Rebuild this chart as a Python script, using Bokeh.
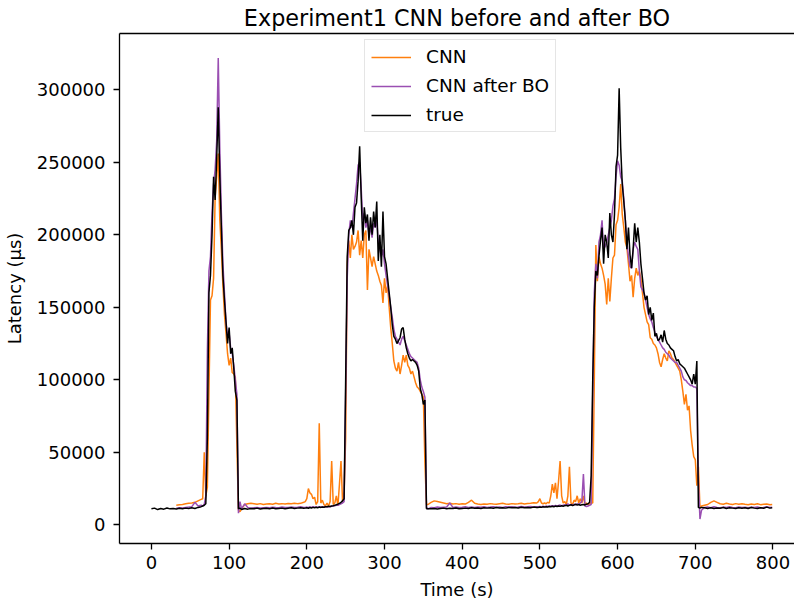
import numpy as np
from bokeh.plotting import figure
from bokeh.models import ColumnDataSource, Range1d, FixedTicker, LinearAxis, BasicTickFormatter
from bokeh.embed import file_html
from bokeh.resources import INLINE

NaN = float("nan")

chart_title = "Experiment1 CNN before and after BO"
x_label = "Time (s)"
y_label = "Latency (µs)"
series_names = ["CNN", "CNN after BO", "true"]
x_ticks = [0, 100, 200, 300, 400, 500, 600, 700, 800]
y_ticks = [0, 50000, 100000, 150000, 200000, 250000, 300000]

time_s = [
    0, 4, 8, 12, 16, 20, 24, 28, 32, 36, 40, 44, 48, 52, 56, 60, 64,
    66, 68, 70, 72, 74, 76, 78, 80, 82, 84, 86, 88, 90, 92, 94, 96, 98, 100, 102, 104, 106, 108, 110, 112, 114, 116,
    120, 124, 128, 132, 136, 140, 144, 148, 152, 156, 160, 164, 168, 172, 176, 180, 184, 188, 192, 196,
    198, 200, 202, 204, 206, 208, 210, 212, 214, 216, 218, 220, 222, 224, 226, 228, 230, 232, 234, 236, 238, 240, 242, 244, 246, 248, 250,
    252, 254, 256, 258, 260, 262, 264, 266, 268, 270, 272, 274, 276, 278, 280, 282, 284, 286, 288, 290, 292, 294, 296, 298, 300,
    302, 304, 306, 308, 310, 312, 314, 316, 318, 320, 322, 324, 326, 328, 330, 332, 334, 336, 338, 340, 342, 344, 346, 348, 350, 352, 354, 356,
    360, 364, 368, 372, 376, 380, 384, 388, 392, 396, 400, 404, 408, 412, 416, 420, 424, 428, 432, 436, 440, 444, 448, 452, 456, 460, 464, 468, 472, 476, 480, 484, 488, 492, 496,
    498, 500, 502, 504, 506, 508, 510, 512, 514, 516, 518, 520, 522, 524, 526, 528, 530, 532, 534, 536, 538, 540, 542, 544, 546, 548, 550, 552, 554, 556, 558, 560, 562, 564, 566,
    568, 570, 572, 574, 576, 578, 580, 582, 584, 586, 588, 590, 592, 594, 596, 598, 600, 602, 604, 606,
    608, 610, 612, 614, 616, 618, 620, 622, 624, 626, 628, 630, 632, 634, 636, 638, 640, 642, 644, 646,
    648, 650, 652, 654, 656, 658, 660, 662, 664, 666, 668, 670, 672, 674, 676, 678, 680, 682, 684, 686,
    688, 690, 692, 694, 696, 698, 700, 702, 704, 706, 708,
    712, 716, 720, 724, 728, 732, 736, 740, 744, 748, 752, 756, 760, 764, 768, 772, 776, 780, 784, 788, 792, 796, 799,
]

latency_true = [
    11000, 11500, 10500, 11200, 10800, 11600, 11000, 11300, 10900, 11400, 11100, 11500, 11200, 11700, 11300, 12000, 12500,
    13000, 13500, 14500, 60000, 160000, 172000, 200000, 240000, 224000, 253000,
    288000, 240000, 205000, 172000, 155000, 140000, 125000, 136000, 118000, 122000,
    108000, 92000, 86000, 11000, 11500, 10500,
    11200, 10800, 11300, 11000, 11500, 10900, 11200, 11400, 11000, 11600, 11100, 11300, 11500, 11000, 11400, 11700, 11200, 11500, 11800, 11400,
    11500, 11800, 11400, 11900, 11600, 12000, 11700, 12100, 11800, 12200, 12000, 12300, 12100, 12500, 12400, 12800, 12600, 13000, 13200, 13500,
    13800, 14200, 14800, 15500, 16500, 18000, 100000,
    185000, 203000, 205000, 210000, 200000, 219000, 222000, 237000, 261000, 226000, 196000, 219000, 208000, 214000, 196000,
    212000, 200000, 216000, 205000, 223000, 182000, 200000, 178000, 216000, 185000,
    180000, 170000, 160000, 150000, 138000, 130000, 128000, 125000, 127000, 129000, 135000, 136000, 128000, 122000,
    118000, 115000, 113000, 114000, 113000, 112000, 110000, 106000, 94000, 90000, 83000, 86000, 11000, 11000,
    11000, 11300, 10900, 11200, 11500, 11000, 11400, 11200, 11600, 11100, 11300, 11500, 11200, 11700, 11400, 11600, 11300, 11800,
    11500, 11700, 11400, 11900, 11600, 11800, 11500, 12000, 11700, 11900, 11600, 12100, 11800, 12000, 11700, 12200, 11900,
    12000, 12300, 12000, 12400, 12200, 12500, 12300, 12600, 12400, 12800, 12500, 12900, 12600, 13000, 12700, 13100, 12800, 13200,
    13500, 13000, 13400, 13800, 13300, 13700, 14200, 13600, 14000, 13500, 13800, 14000, 13700, 14200, 14500, 15500, 34000,
    100000, 150000, 175000, 172000, 185000, 196000, 205000, 180000, 200000, 195000,
    184000, 215000, 200000, 195000, 214000, 247000, 255000, 301000, 260000, 235000,
    223000, 210000, 190000, 205000, 186000, 177000, 190000, 208000, 195000, 205000,
    195000, 180000, 170000, 160000, 155000, 158000, 145000, 150000, 141000, 146000,
    130000, 132000, 127000, 128000, 131000, 126000, 134000, 128000, 125000, 124000,
    122000, 121000, 120000, 116000, 113000, 114000, 111000, 110000, 109000, 108000,
    106000, 104000, 102000, 100000, 97000, 104000, 97000, 113000, 12000, 11500, 12000,
    11800, 11300, 11700, 11200, 11600, 11400, 11900, 11300, 11700, 11500, 11200, 11800, 11400, 11700, 11300, 11900, 11500, 11200,
    11800, 11400, 12200, 11500, 11800,
]

latency_cnn = [
    NaN, NaN, NaN, NaN, NaN, NaN, NaN, NaN, 13500, 13800, 14000, 14500, 14800, 15000, 15500, 16500, 17500,
    18000, 50000, 20000, 26000, 90000, 155000, 158000, 170000, 226000, 240000,
    256000, 210000, 190000, 165000, 145000, 132000, 118000, 110000, 115000, 105000,
    104000, 102000, 54000, 10000, 9000, 11000,
    14000, 14500, 14800, 14500, 14200, 14600, 14000, 14300, 14500, 14200, 14800, 14400, 14600, 14300, 14700, 14500, 14900, 14600, 14800, 15500,
    16000, 18000, 25000, 22000, 21000, 18000, 19000, 14000, 16000, 70000,
    15000, 17000, 14000, 13000, 15000, 13000, 16000, 44000, 14000, 15000,
    20000, 13000, 28000, 44000, 16000, 23000, 60000,
    180000, 196000, 184000, 200000, 190000, 192000, 195000, 203000, 186000, 196000, 184000, 200000, 203000, 162000, 190000,
    184000, 178000, 185000, 180000, 175000, 172000, 168000, 165000, 153000, 170000,
    160000, 165000, 150000, 136000, 125000, 113000, 108000, 106000, 112000, 104000, 110000, 117000, 112000, 117000,
    110000, 108000, 104000, 106000, 102000, 98000, 95000, 94000, 92000, 90000, 88000, 43000, 14000, 14000,
    15500, 16500, 16000, 15500, 15000, 14500, 14800, 14300, 14600, 14200, 14500, 14300, 15500, 17000, 14800, 14300, 14000, 14400,
    14200, 14600, 14300, 14100, 14500, 14800, 14400, 14200, 14600, 14300, 14500, 14800, 14400, 14700, 14900, 15200, 15000,
    16000, 18000, 15000, 14500, 15000, 14500, 15500, 15000, 20000, 28000, 22000, 29000, 18000, 30000, 44000, 20000, 15000, 16000,
    14000, 20000, 40000, 15000, 14000, 17000, 16000, 20000, 15000, 18000, 15000, 20000, 14000, 15000, 14000, 14500, 15000,
    15000, 99000, 193000, 168000, 185000, 180000, 177000, 172000, 166000, 152000,
    170000, 154000, 170000, 184000, 186000, 207000, 210000, 219000, 235000, 214000,
    205000, 195000, 191000, 180000, 168000, 172000, 157000, 170000, 177000, 172000,
    175000, 170000, 160000, 150000, 145000, 140000, 138000, 129000, 128000, 125000,
    124000, 122000, 118000, 112000, 109000, 114000, 118000, 115000, 113000, 120000,
    118000, 115000, 114000, 112000, 110000, 108000, 106000, 100000, 92000, 83000,
    90000, 79000, 82000, 65000, 55000, 47000, 45000, 27000, 40000, 12000, 13000,
    13500, 14000, 15500, 16500, 15500, 14500, 14200, 14800, 14300, 14000, 14600, 14200, 14500, 14100, 13800, 14300, 14000, 14500,
    13900, 14200, 14400, 13800, 14000,
]

latency_cnn_bo = [
    NaN, NaN, NaN, NaN, NaN, NaN, NaN, NaN, 11500, 11800, 11600, 12000, 12200, 12500, 15500, 13000, 13500,
    13000, 14000, 20000, 120000, 175000, 185000, 215000, 235000, 245000, 265000,
    322000, 260000, 215000, 180000, 160000, 140000, 130000, 132000, 122000, 118000,
    110000, 100000, 90000, 8000, 16000, 11000,
    14500, 12000, 11500, 11800, 12000, 11600, 11800, 12000, 11700, 12100, 11900, 11800, 12200, 11900, 12000, 12300, 11900, 12100, 12400, 12000,
    12000, 12200, 11900, 12300, 12000, 12400, 12100, 12300, 12000, 12500,
    12200, 12400, 12100, 12600, 12300, 12500, 12500, 12800, 13000, 13200,
    13400, 13500, 14000, 14500, 15000, 16000, 90000,
    170000, 200000, 210000, 205000, 215000, 225000, 235000, 248000, 250000, 232000, 210000, 215000, 205000, 210000, 200000,
    205000, 198000, 208000, 205000, 210000, 195000, 190000, 185000, 190000, 180000,
    172000, 165000, 158000, 150000, 143000, 135000, 130000, 128000, 126000, 124000, 128000, 130000, 127000, 124000,
    121000, 118000, 116000, 115000, 114000, 113000, 112000, 108000, 100000, 95000, 92000, 88000, 12000, 11000,
    12000, 11800, 12200, 11900, 12100, 12300, 15000, 12000, 12200, 11900, 12100, 12400, 12000, 12200, 11900, 12300, 12100, 12400,
    12000, 12200, 12500, 12100, 12300, 12000, 12400, 12200, 12500, 12100, 12300, 12600, 12200, 12400, 12700, 12300, 12500,
    12500, 12600, 12300, 12800, 12500, 12900, 12600, 13000, 12800, 13200, 12900, 13400, 13000, 13300, 13600, 13200, 13500, 13800,
    13400, 14500, 13600, 14000, 13500, 14200, 13800, 14500, 14000, 15000, 16000, 35000, 13000, 12500, 13000, 13500, 14000,
    90000, 160000, 180000, 170000, 195000, 200000, 210000, 190000, 192000, 195000,
    200000, 205000, 210000, 220000, 225000, 240000, 251000, 248000, 240000, 237000,
    225000, 210000, 195000, 185000, 178000, 177000, 190000, 195000, 192000, 190000,
    175000, 164000, 162000, 160000, 155000, 150000, 145000, 142000, 140000, 136000,
    133000, 130000, 128000, 126000, 124000, 122000, 121000, 119000, 118000, 117000,
    115000, 114000, 113000, 112000, 112000, 110000, 108000, 106000, 102000, 100000,
    99500, 98000, 97000, 96000, 96000, 95000, 95000, 94000, 30000, 4000, 10000,
    12000, 12300, 11800, 12500, 12000, 11700, 12200, 11900, 12400, 12000, 11800, 12300, 11900, 12100, 11700, 12200, 11900, 12300,
    11800, 12000, 12400, 11900, 12100,
]

assert len(time_s) == len(latency_true) == len(latency_cnn) == len(latency_cnn_bo), (
    len(time_s), len(latency_true), len(latency_cnn), len(latency_cnn_bo))

source = ColumnDataSource(data=dict(
    t=np.array(time_s, dtype=float),
    true=np.array(latency_true, dtype=float),
    cnn=np.array(latency_cnn, dtype=float),
    bo=np.array(latency_cnn_bo, dtype=float),
))

FONT = "DejaVu Sans"
TICK_PX = "18px"

p = figure(
    width=794, height=603,
    x_range=Range1d(-41.1, 827.7),
    y_range=Range1d(-12897, 338827),
    output_backend="svg", toolbar_location=None,
    min_border_left=118, min_border_right=0, min_border_top=33, min_border_bottom=60,
    title=chart_title,
)
p.background_fill_color = "white"
p.border_fill_color = "white"
p.outline_line_color = None
p.xgrid.visible = False
p.ygrid.visible = False

p.title.text_font = FONT
p.title.text_font_size = "22.3px"
p.title.text_font_style = "normal"
p.title.text_color = "black"
p.title.align = "center"
p.title.offset = 5
p.title.standoff = 5

for ax in (p.xaxis[0], p.yaxis[0]):
    ax.axis_line_color = "black"
    ax.axis_line_width = 1.3
    ax.major_tick_line_color = "black"
    ax.major_tick_line_width = 1.3
    ax.major_tick_out = 6
    ax.major_tick_in = 0
    ax.minor_tick_out = 0
    ax.minor_tick_in = 0
    ax.major_label_text_font = FONT
    ax.major_label_text_font_size = TICK_PX
    ax.major_label_text_color = "black"
    ax.axis_label_text_font = FONT
    ax.axis_label_text_font_size = TICK_PX
    ax.axis_label_text_font_style = "normal"
    ax.axis_label_text_color = "black"

p.xaxis.ticker = FixedTicker(ticks=x_ticks)
p.yaxis.ticker = FixedTicker(ticks=y_ticks)
p.yaxis.formatter = BasicTickFormatter(use_scientific=False)
p.xaxis.axis_label = x_label
p.yaxis.axis_label = y_label
p.xaxis.major_label_standoff = 6
p.yaxis.major_label_standoff = 8
p.xaxis.axis_label_standoff = 7
p.yaxis.axis_label_standoff = 9

top_axis = LinearAxis(
    ticker=FixedTicker(ticks=[]),
    major_label_text_font_size="0px",
    major_tick_out=0, major_tick_in=0, minor_tick_out=0, minor_tick_in=0,
    major_label_standoff=0,
    axis_line_color="black", axis_line_width=1.3,
)
p.add_layout(top_axis, "above")

p.line("t", "cnn", source=source, color="#ff7f0e", line_width=1.5, legend_label=series_names[0])
p.line("t", "bo", source=source, color="#9a4fb2", line_width=1.5, legend_label=series_names[1])
p.line("t", "true", source=source, color="black", line_width=1.5, legend_label=series_names[2])

lg = p.legend[0]
lg.location = (245, 411)
lg.label_text_font = FONT
lg.label_text_font_size = "18.5px"
lg.label_text_color = "black"
lg.glyph_width = 40
lg.glyph_height = 20
lg.label_height = 20
lg.label_standoff = 15
lg.spacing = 8
lg.padding = 6
lg.margin = 0
lg.border_line_color = "#cccccc"
lg.border_line_width = 1
lg.background_fill_color = "white"
lg.background_fill_alpha = 0.8

open("out.html", "w").write(file_html(p, INLINE))
